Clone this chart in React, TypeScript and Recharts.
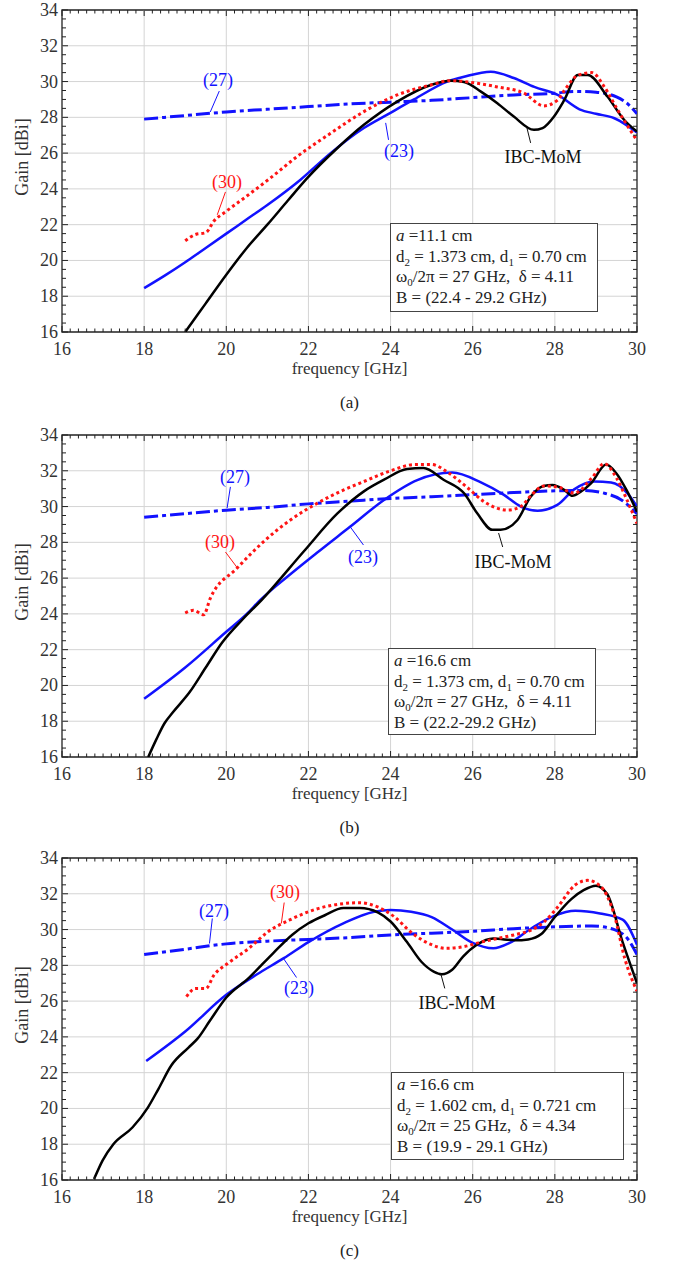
import React from 'react';
import { LineChart, Line, XAxis, YAxis, ReferenceLine, ReferenceArea } from 'recharts';

type Pt = [number, number];

// ---- panel (a) ----
const A_IBC: Pt[] = [[19.0,16.0],[19.5,17.6],[20,19.2],[20.5,20.7],[21,22.0],[21.5,23.35],[21.97,24.6],[22.7,26.27],[23.35,27.58],[24.16,28.88],[24.98,29.81],[25.46,30.05],[25.79,29.97],[26.2,29.44],[26.6,28.79],[27.0,28.04],[27.49,27.3],[27.7,27.4],[27.98,28.05],[28.23,28.97],[28.56,30.37],[28.8,30.37],[29.28,29.16],[29.69,27.85],[30,27.2]];
const A_EQ23: Pt[] = [[18,18.45],[18.5,19.15],[19,19.9],[19.5,20.7],[20,21.5],[20.5,22.3],[21,23.1],[21.8,24.5],[22.54,26.0],[23.35,27.4],[23.92,28.15],[24.57,29.0],[25.38,30.0],[25.79,30.27],[26.44,30.55],[27,30.2],[27.5,29.7],[28.07,29.25],[28.6,28.45],[29,28.2],[29.45,27.95],[30,27.15]];
const A_EQ27: Pt[] = [[18,27.9],[19,28.1],[20,28.3],[21,28.45],[22,28.6],[23,28.75],[24,28.85],[25,28.95],[26,29.1],[27,29.25],[28,29.35],[28.5,29.45],[29,29.4],[29.5,29.15],[29.8,28.7],[30,28.2]];
const A_EQ30: Pt[] = [[19,21.1],[19.25,21.45],[19.5,21.55],[19.7,22.2],[20,22.75],[20.5,23.6],[21.07,24.6],[21.72,25.8],[22.54,27.11],[23.35,28.32],[24.16,29.25],[24.98,29.81],[25.46,30.05],[26.2,29.87],[26.6,29.7],[27.24,29.36],[27.73,28.64],[28.07,28.97],[28.23,29.5],[28.56,30.35],[28.9,30.5],[29.2,29.72],[29.53,28.41],[30,26.7]];

// ---- panel (b) ----
const B_IBC: Pt[] = [[18.1,16.0],[18.3,17.0],[18.5,17.9],[18.7,18.5],[19.1,19.6],[19.5,21.0],[19.9,22.4],[20.4,23.7],[20.87,24.8],[21.89,27.5],[22.7,29.6],[23.35,30.85],[23.84,31.5],[24.4,32.1],[24.8,32.15],[25.29,31.5],[25.79,30.74],[26.11,29.62],[26.48,28.7],[26.68,28.7],[27.09,29.25],[27.41,30.55],[27.73,31.15],[27.94,31.2],[28.23,30.93],[28.43,30.6],[28.63,30.83],[28.88,31.3],[29.25,32.35],[29.5,31.85],[29.75,30.9],[30,29.7]];
const B_EQ23: Pt[] = [[18,19.25],[19,21.0],[20,23.0],[20.5,24.0],[20.83,24.78],[21.5,26.1],[22.2,27.4],[23.02,28.88],[23.84,30.37],[24.65,31.48],[25.5,31.9],[26.2,31.35],[26.76,30.65],[27.17,30.0],[27.58,29.77],[28.06,30.09],[28.47,30.96],[28.96,31.4],[29.37,31.35],[29.77,30.74],[30,30.0]];
const B_EQ27: Pt[] = [[18,29.4],[19,29.6],[20,29.8],[21,29.95],[22,30.15],[23,30.3],[24,30.45],[25,30.55],[26,30.67],[27,30.78],[28,30.88],[28.7,30.9],[29.2,30.75],[29.6,30.4],[30,29.6]];
const B_EQ30: Pt[] = [[19,24.05],[19.2,24.2],[19.45,23.95],[19.61,24.87],[20.26,26.55],[20.91,28.04],[21.56,29.25],[22.21,30.18],[22.86,30.93],[23.35,31.4],[24,32.0],[24.6,32.35],[25.0,32.35],[25.4,31.9],[25.85,31.1],[26.28,30.27],[26.85,29.8],[27.17,30.0],[27.45,30.7],[27.73,31.15],[28.06,31.1],[28.47,30.75],[28.9,31.6],[29.2,32.4],[29.5,31.6],[29.75,30.4],[30,29.05]];

// ---- panel (c) ----
const C_IBC: Pt[] = [[16.78,16.05],[16.99,17.1],[17.25,18.0],[17.72,18.95],[18.09,20.05],[18.35,21.1],[18.66,22.4],[19.08,23.4],[19.3,23.9],[19.6,24.9],[20,26.2],[20.55,27.3],[21.15,28.7],[21.6,29.7],[22,30.35],[22.4,30.8],[22.85,31.2],[23.25,31.2],[23.7,30.95],[24,30.45],[24.4,29.3],[24.75,28.2],[25.05,27.65],[25.25,27.5],[25.5,27.75],[25.77,28.5],[26.1,29.15],[26.5,29.5],[27.03,29.4],[27.35,29.45],[27.67,29.75],[28,30.7],[28.4,31.7],[28.7,32.2],[29.0,32.45],[29.27,32.0],[29.65,29.3],[30,27.0]];
const C_EQ23: Pt[] = [[18.05,22.65],[19,24.3],[20,26.35],[20.75,27.5],[21.4,28.4],[22,29.3],[22.85,30.35],[23.6,31.0],[24,31.1],[24.5,31.0],[25.0,30.7],[25.5,30.0],[26.0,29.25],[26.5,28.95],[26.9,29.25],[27.45,30.1],[27.97,30.75],[28.5,31.05],[29.1,30.9],[29.65,30.55],[30,29.15]];
const C_EQ27: Pt[] = [[18,28.6],[19,28.9],[20,29.2],[21,29.35],[22,29.45],[23,29.55],[24,29.7],[25,29.8],[26,29.9],[27,30.05],[28,30.15],[28.9,30.2],[29.45,30.0],[29.8,29.4],[30,28.6]];
const C_EQ30: Pt[] = [[19.03,26.25],[19.25,26.7],[19.5,26.7],[19.7,27.45],[20.03,28.1],[20.55,28.95],[21.0,29.85],[21.6,30.6],[22.2,31.15],[22.85,31.45],[23.25,31.5],[23.7,31.25],[24.1,30.7],[24.5,29.85],[24.95,29.2],[25.35,28.95],[25.8,29.05],[26.2,29.3],[26.6,29.5],[27.0,29.7],[27.45,30.0],[27.75,30.45],[28.05,31.2],[28.5,32.5],[28.8,32.75],[29.1,32.45],[29.45,30.8],[29.7,28.4],[30,26.55]];

const X_MAJOR = [16, 18, 20, 22, 24, 26, 28, 30];
const Y_MAJOR = [16, 18, 20, 22, 24, 26, 28, 30, 32, 34];
const X_MINOR = Array.from({ length: 71 }, (_, i) => +(16 + i * 0.2).toFixed(1));
const Y_MINOR = Array.from({ length: 37 }, (_, i) => 16 + i * 0.5);

const W = 673;
const H = 425;
const PL = 62, PR = 637, PT = 10, PB = 332;
const SERIF = "'Liberation Serif', 'DejaVu Serif', serif";
const BLUE = '#1212ff';
const RED = '#ff1414';

const rows = (pts: Pt[]) => pts.map(([f, g]) => ({ f, g }));
const isMajor = (v: number, list: number[]) => list.some(m => Math.abs(m - v) < 1e-6);

const XTick = (props: any) => {
  const { x, payload } = props;
  const major = isMajor(payload.value, X_MAJOR);
  const len = major ? 6 : 3.5;
  return (
    <g>
      <line x1={x} x2={x} y1={PB} y2={PB - len} stroke="#222" />
      <line x1={x} x2={x} y1={PT} y2={PT + len} stroke="#222" />
      {major && (
        <text x={x} y={PB + 23} textAnchor="middle" fontSize={18} fill="#333" style={{ fontFamily: SERIF }}>
          {payload.value}
        </text>
      )}
    </g>
  );
};

const YTick = (props: any) => {
  const { y, payload } = props;
  const major = isMajor(payload.value, Y_MAJOR);
  const len = major ? 6 : 4;
  return (
    <g>
      <line x1={PL} x2={PL + len} y1={y} y2={y} stroke="#222" />
      <line x1={PR} x2={PR - len} y1={y} y2={y} stroke="#222" />
      {major && (
        <text x={PL - 4} y={y + 6} textAnchor="end" fontSize={18} fill="#333" style={{ fontFamily: SERIF }}>
          {payload.value}
        </text>
      )}
    </g>
  );
};

interface BoxInfo { a: string; d2: string; d1: string; f0: string; delta: string; band: string; left: number; top: number; w: number; h: number }
interface Panel {
  top: number; tag: string;
  ibc: Pt[]; eq23: Pt[]; eq27: Pt[]; eq30: Pt[];
  box: BoxInfo;
  labels: { text: string; color: string; x: number; y: number }[];
  leaders: { color: string; seg: [Pt, Pt] }[];
}

const PANELS: Panel[] = [
  {
    top: 0, tag: '(a)', ibc: A_IBC, eq23: A_EQ23, eq27: A_EQ27, eq30: A_EQ30,
    box: { a: '11.1', d2: '1.373', d1: '0.70', f0: '27', delta: '4.11', band: '22.4 - 29.2', left: 390, top: 223, w: 208, h: 89 },
    labels: [
      { text: '(27)', color: BLUE, x: 218, y: 80 },
      { text: '(30)', color: RED, x: 227, y: 182 },
      { text: '(23)', color: BLUE, x: 399, y: 151 },
      { text: 'IBC-MoM', color: '#111', x: 543, y: 157 },
    ],
    leaders: [
      { color: BLUE, seg: [[19.83, 29.47], [19.61, 28.3]] },
      { color: RED, seg: [[19.98, 23.83], [19.78, 22.55]] },
      { color: BLUE, seg: [[23.95, 26.74], [23.88, 27.69]] },
      { color: '#111', seg: [[27.41, 26.57], [27.32, 27.41]] },
    ],
  },
  {
    top: 425, tag: '(b)', ibc: B_IBC, eq23: B_EQ23, eq27: B_EQ27, eq30: B_EQ30,
    box: { a: '16.6', d2: '1.373', d1: '0.70', f0: '27', delta: '4.11', band: '22.2-29.2', left: 388, top: 223, w: 208, h: 87 },
    labels: [
      { text: '(27)', color: BLUE, x: 235, y: 52 },
      { text: '(30)', color: RED, x: 220, y: 117 },
      { text: '(23)', color: BLUE, x: 363, y: 132 },
      { text: 'IBC-MoM', color: '#111', x: 513, y: 137 },
    ],
    leaders: [
      { color: BLUE, seg: [[20.1, 31.1], [20.02, 29.92]] },
      { color: RED, seg: [[19.98, 27.46], [20.27, 26.57]] },
      { color: BLUE, seg: [[23.34, 27.85], [23.02, 28.86]] },
      { color: '#111', seg: [[26.73, 27.74], [26.63, 28.52]] },
    ],
  },
  {
    top: 848, tag: '(c)', ibc: C_IBC, eq23: C_EQ23, eq27: C_EQ27, eq30: C_EQ30,
    box: { a: '16.6', d2: '1.602', d1: '0.721', f0: '25', delta: '4.34', band: '19.9 - 29.1', left: 391, top: 224, w: 233, h: 88 },
    labels: [
      { text: '(27)', color: BLUE, x: 214, y: 63 },
      { text: '(30)', color: RED, x: 285, y: 44 },
      { text: '(23)', color: BLUE, x: 299, y: 140 },
      { text: 'IBC-MoM', color: '#111', x: 457, y: 155 },
    ],
    leaders: [
      { color: BLUE, seg: [[19.66, 30.62], [19.59, 29.22]] },
      { color: RED, seg: [[21.41, 31.51], [21.34, 30.34]] },
      { color: BLUE, seg: [[21.71, 27.32], [21.39, 28.39]] },
      { color: '#111', seg: [[25.32, 26.71], [25.22, 27.55]] },
    ],
  },
];

const SUB: React.CSSProperties = { fontSize: 11, lineHeight: 0, verticalAlign: '-4px' };

function GainPanel({ p }: { p: Panel }) {
  const b = p.box;
  return (
    <div style={{ position: 'absolute', left: 0, top: p.top, width: W, height: H, fontFamily: SERIF }}>
      <LineChart width={W} height={H} margin={{ top: PT, right: W - PR, left: 0, bottom: H - PB - 30 }}>
        <XAxis dataKey="f" type="number" domain={[16, 30]} ticks={X_MINOR} interval={0} tick={XTick}
          tickLine={false} axisLine={false} height={30} allowDataOverflow />
        <YAxis type="number" domain={[16, 34]} ticks={Y_MINOR} interval={0} tick={YTick}
          tickLine={false} axisLine={false} width={PL} allowDataOverflow />
        {X_MAJOR.slice(1, -1).map(v => <ReferenceLine key={'gx' + v} x={v} stroke="#d4d4d4" strokeWidth={1} />)}
        {Y_MAJOR.slice(1, -1).map(v => <ReferenceLine key={'gy' + v} y={v} stroke="#d4d4d4" strokeWidth={1} />)}
        <ReferenceArea x1={16} x2={30} y1={16} y2={34} fill="none" fillOpacity={0} stroke="#222" strokeWidth={1.3} />
        <Line data={rows(p.eq27)} dataKey="g" type="monotone" stroke={BLUE} strokeWidth={3}
          strokeDasharray="14 4 4 4" dot={false} activeDot={false} isAnimationActive={false} />
        <Line data={rows(p.eq23)} dataKey="g" type="monotone" stroke={BLUE} strokeWidth={2.5}
          dot={false} activeDot={false} isAnimationActive={false} />
        <Line data={rows(p.ibc)} dataKey="g" type="monotone" stroke="#000" strokeWidth={2.5}
          dot={false} activeDot={false} isAnimationActive={false} />
        <Line data={rows(p.eq30)} dataKey="g" type="monotone" stroke={RED} strokeWidth={3}
          strokeDasharray="3 3" dot={false} activeDot={false} isAnimationActive={false} />
        {p.leaders.map((l, i) => (
          <ReferenceLine key={'ld' + i} stroke={l.color} strokeWidth={1}
            segment={[{ x: l.seg[0][0], y: l.seg[0][1] }, { x: l.seg[1][0], y: l.seg[1][1] }]} />
        ))}
      </LineChart>

      {p.labels.map((l, i) => (
        <div key={'lb' + i} style={{
          position: 'absolute', left: l.x, top: l.y, transform: 'translate(-50%, -50%)',
          color: l.color, fontSize: 18, whiteSpace: 'nowrap', lineHeight: 1,
        }}>{l.text}</div>
      ))}

      <div style={{
        position: 'absolute', left: b.left, top: b.top, width: b.w, height: b.h, boxSizing: 'border-box',
        border: '1.5px solid #444', background: '#fff', fontSize: 17, color: '#222',
        lineHeight: '20.5px', padding: '2px 0 0 5px', whiteSpace: 'pre', overflow: 'hidden',
      }}>
        <div><i>a</i> ={b.a} cm</div>
        <div>d<span style={SUB}>2</span> = {b.d2} cm, d<span style={SUB}>1</span> = {b.d1} cm</div>
        <div>ω<span style={SUB}>0</span>/2π = {b.f0} GHz,  δ = {b.delta}</div>
        <div>B = ({b.band} GHz)</div>
      </div>

      <div style={{
        position: 'absolute', left: 22, top: (PT + PB) / 2 - 14, transform: 'translate(-50%, -50%) rotate(-90deg)',
        fontSize: 18, color: '#333', whiteSpace: 'nowrap', lineHeight: 1,
      }}>Gain [dBi]</div>
      <div style={{
        position: 'absolute', left: (PL + PR) / 2, top: PB + 36, transform: 'translate(-50%, -50%)',
        fontSize: 17, color: '#333', whiteSpace: 'nowrap', lineHeight: 1,
      }}>frequency [GHz]</div>
      <div style={{
        position: 'absolute', left: (PL + PR) / 2, top: PB + 70, transform: 'translate(-50%, -50%)',
        fontSize: 17, color: '#222', whiteSpace: 'nowrap', lineHeight: 1,
      }}>{p.tag}</div>
    </div>
  );
}

export default function App() {
  return (
    <div style={{ position: 'absolute', left: 0, top: 0, width: W, height: 1265, background: '#fff' }}>
      {PANELS.map(p => <GainPanel key={p.tag} p={p} />)}
    </div>
  );
}
